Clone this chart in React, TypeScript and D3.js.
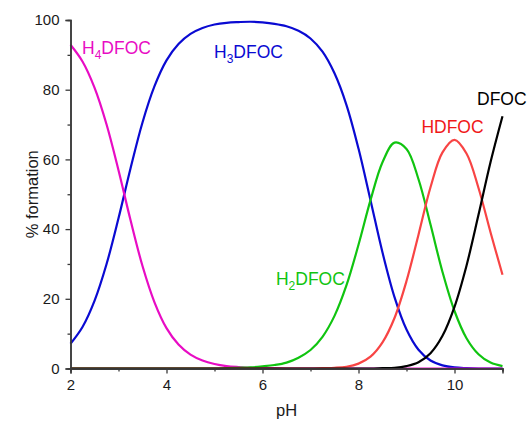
import React, { useRef, useEffect } from "react";
import * as d3 from "d3";

// pH grid (0.25 steps) and % formation
const pH = [
  2, 2.25, 2.5, 2.75, 3, 3.25, 3.5, 3.75, 4, 4.25, 4.5, 4.75, 5, 5.25, 5.5, 5.75, 6, 6.25, 6.5,
  6.75, 7, 7.25, 7.5, 7.75, 8, 8.25, 8.5, 8.75, 9, 9.25, 9.5, 9.75, 10, 10.25, 10.5, 10.75, 11,
];
const h4dfoc = [
  92.9, 88.1, 80.6, 70.1, 56.9, 42.6, 29.4, 19.0, 11.6, 6.9, 4.0, 2.3, 1.3, 0.7, 0.4, 0.2, 0.1, 0.1, 0,
  0, 0, 0, 0, 0, 0, 0, 0, 0, 0, 0, 0, 0, 0, 0, 0, 0, 0,
];
const h3dfoc = [
  7.1, 11.9, 19.4, 29.9, 43.1, 57.4, 70.6, 81.0, 88.4, 93.1, 96.0, 97.7, 98.7, 99.2, 99.4, 99.5, 99.3, 98.9, 98.2,
  96.9, 94.7, 90.9, 84.7, 75.6, 63.1, 48.3, 33.3, 20.5, 11.2, 5.4, 2.3, 0.9, 0.3, 0.1, 0, 0, 0,
];
const h2dfoc = [
  0, 0, 0, 0, 0, 0, 0, 0, 0, 0, 0, 0, 0, 0.1, 0.2, 0.3, 0.6, 1.0, 1.7,
  3.1, 5.3, 9.1, 15.1, 23.9, 35.5, 48.3, 59.2, 64.8, 63.0, 54.3, 41.3, 27.7, 16.5, 8.7, 4.1, 1.7, 0.7,
];
const hdfoc = [
  0, 0, 0, 0, 0, 0, 0, 0, 0, 0, 0, 0, 0, 0, 0, 0, 0, 0, 0,
  0, 0, 0.1, 0.2, 0.5, 1.4, 3.4, 7.5, 14.5, 25.1, 38.4, 52.0, 62.0, 65.6, 61.7, 51.8, 39.1, 26.9,
];
const dfoc = [
  0, 0, 0, 0, 0, 0, 0, 0, 0, 0, 0, 0, 0, 0, 0, 0, 0, 0, 0,
  0, 0, 0, 0, 0, 0, 0, 0.1, 0.2, 0.7, 1.8, 4.4, 9.4, 17.7, 29.5, 44.1, 59.2, 72.4,
];

const xMajor = [2, 4, 6, 8, 10];
const xMinor = [3, 5, 7, 9, 11];
const yMajor = [0, 20, 40, 60, 80, 100];
const yMinor = [10, 30, 50, 70, 90];

const series = [
  { name: "H3DFOC", values: h3dfoc, color: "#0a0ad2" },
  { name: "H4DFOC", values: h4dfoc, color: "#e80cc4" },
  { name: "H2DFOC", values: h2dfoc, color: "#10c410" },
  { name: "HDFOC", values: hdfoc, color: "#f84444" },
  { name: "DFOC", values: dfoc, color: "#000000" },
];

// label: main part, subscript, rest, anchor position in data units
const labels = [
  { pre: "H", sub: "4", post: "DFOC", x: 2.24, y: 90.2, color: "#e80cc4" },
  { pre: "H", sub: "3", post: "DFOC", x: 4.99, y: 89.2, color: "#0a0ad2" },
  { pre: "H", sub: "2", post: "DFOC", x: 6.28, y: 24.0, color: "#10c410" },
  { pre: "HDFOC", sub: "", post: "", x: 9.31, y: 67.6, color: "#f01818" },
  { pre: "DFOC", sub: "", post: "", x: 10.47, y: 75.6, color: "#000000" },
];

const W = 529;
const H = 423;
const margin = { top: 20, right: 26.5, bottom: 54.5, left: 70.5 };
const font = "'Liberation Sans', Arial, sans-serif";

const App = () => {
  const svgRef = useRef<SVGSVGElement>(null);

  useEffect(() => {
    const svg = d3.select(svgRef.current);
    svg.selectAll("*").remove();

    const x = d3.scaleLinear().domain([2, 11]).range([margin.left, W - margin.right]);
    const y = d3.scaleLinear().domain([0, 100]).range([H - margin.bottom, margin.top]);

    const line = d3
      .line<number>()
      .x((_, i) => x(pH[i]))
      .y((d) => y(d))
      .curve(d3.curveCatmullRom.alpha(0.5));

    // curves
    svg
      .append("g")
      .selectAll("path")
      .data(series)
      .join("path")
      .attr("d", (d) => line(d.values))
      .attr("fill", "none")
      .attr("stroke", (d) => d.color)
      .attr("stroke-width", 2.2);

    const axisColor = "#3a3a3a";

    // x axis
    const gx = svg.append("g").attr("transform", `translate(0,${y(0)})`);
    gx.call(d3.axisBottom(x).tickValues(xMajor).tickSize(5).tickPadding(6).tickFormat(d3.format("d")));
    gx.append("g").call(d3.axisBottom(x).tickValues(xMinor).tickSize(3).tickFormat(() => ""));
    gx.selectAll(".domain").attr("stroke", axisColor).attr("stroke-width", 1.5);
    gx.selectAll(".tick line").attr("stroke", axisColor).attr("stroke-width", 1.3);
    gx.selectAll("text").attr("font-size", 15).attr("font-family", font).attr("fill", "#1a1a1a");

    // y axis
    const gy = svg.append("g").attr("transform", `translate(${x(2)},0)`);
    gy.call(d3.axisLeft(y).tickValues(yMajor).tickSize(5).tickPadding(6));
    gy.append("g").call(d3.axisLeft(y).tickValues(yMinor).tickSize(3).tickFormat(() => ""));
    gy.selectAll(".domain").attr("stroke", axisColor).attr("stroke-width", 1.5);
    gy.selectAll(".tick line").attr("stroke", axisColor).attr("stroke-width", 1.3);
    gy.selectAll("text").attr("font-size", 15).attr("font-family", font).attr("fill", "#1a1a1a");

    // axis titles
    svg
      .append("text")
      .attr("x", (x(2) + x(11)) / 2)
      .attr("y", 416)
      .attr("text-anchor", "middle")
      .attr("font-size", 16.5)
      .attr("font-family", font)
      .attr("fill", "#1a1a1a")
      .text("pH");
    svg
      .append("text")
      .attr("transform", `translate(38,${(y(0) + y(100)) / 2}) rotate(-90)`)
      .attr("text-anchor", "middle")
      .attr("font-size", 16.5)
      .attr("font-family", font)
      .attr("fill", "#1a1a1a")
      .text("% formation");

    // species labels
    labels.forEach((l) => {
      const t = svg
        .append("text")
        .attr("x", x(l.x))
        .attr("y", y(l.y))
        .attr("font-size", 17.5)
        .attr("font-family", font)
        .attr("fill", l.color);
      t.append("tspan").text(l.pre);
      if (l.sub) {
        t.append("tspan").attr("font-size", 12).attr("dy", 5).text(l.sub);
        t.append("tspan").attr("dy", -5).text(l.post);
      }
    });
  }, []);

  return (
    <svg
      ref={svgRef}
      width={W}
      height={H}
      style={{ position: "absolute", left: 0, top: 0, background: "#fff" }}
    />
  );
};

export default App;
